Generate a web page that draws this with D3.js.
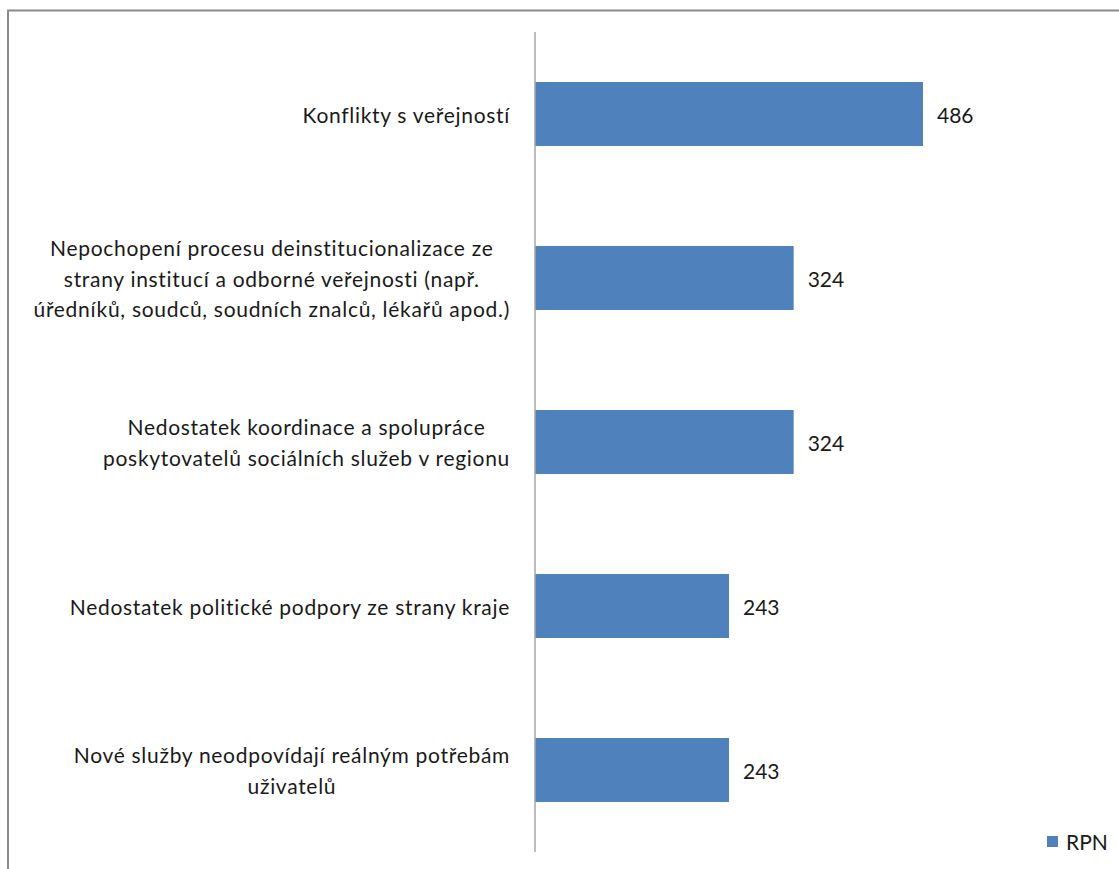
<!DOCTYPE html>
<html>
<head>
<meta charset="utf-8">
<script src="https://cdn.jsdelivr.net/npm/d3@7"></script>
<style>
  html, body { margin: 0; padding: 0; background: #fff; }
  svg text { font-family: Lato, "Open Sans", sans-serif; fill: #1a1a1a; }
</style>
</head>
<body>
<svg id="chart" width="1119" height="869"></svg>
<script>
// Risk categories (each entry is the list of lines of its label)
const categories = [
  ["Konflikty s veřejností"],
  ["Nepochopení procesu deinstitucionalizace ze",
   "strany institucí a odborné veřejnosti (např.",
   "úředníků, soudců, soudních znalců, lékařů apod.)"],
  ["Nedostatek koordinace a spolupráce",
   "poskytovatelů sociálních služeb v regionu"],
  ["Nedostatek politické podpory ze strany kraje"],
  ["Nové služby neodpovídají reálným potřebám",
   "uživatelů"]
];
// RPN score for each category
const rpnValues = [486, 324, 324, 243, 243];
const seriesName = "RPN";

const W = 1119, H = 869;
const svg = d3.select("#chart");
const barColor = "#4f81bd";
const fontSize = 21;
const spacing = 0.7;

// Chart-area frame (top and left edges)
svg.append("path")
  .attr("d", `M8,${H} V10.5 H${W}`)
  .attr("fill", "none")
  .attr("stroke", "#8a8a8a")
  .attr("stroke-width", 2);

const keys = categories.map((c, i) => i);

const x = d3.scaleLinear().domain([0, 600]).range([535, 1014]);
const y = d3.scaleBand().domain(keys).range([32, 852])
  .paddingInner(0.61).paddingOuter(0.305);

// Bars
svg.append("g").selectAll("rect")
  .data(keys)
  .join("rect")
  .attr("x", x(0))
  .attr("y", i => y(i))
  .attr("width", i => x(rpnValues[i]) - x(0))
  .attr("height", y.bandwidth())
  .attr("fill", barColor);

// Category axis line
svg.append("line")
  .attr("x1", x(0)).attr("x2", x(0))
  .attr("y1", 32).attr("y2", 852)
  .attr("stroke", "#a6a6a6")
  .attr("stroke-width", 1.5);

// Category labels: block right-aligned next to the axis, lines centred in the block
const labelRight = 510;
const lineGap = 30.5;
const labels = svg.append("g");
keys.forEach(i => {
  const lines = categories[i];
  const g = labels.append("g");
  const texts = g.selectAll("text")
    .data(lines)
    .join("text")
    .attr("font-size", fontSize)
    .attr("letter-spacing", spacing)
    .attr("text-anchor", "middle")
    .attr("dominant-baseline", "central")
    .text(d => d);
  let maxW = 0;
  texts.each(function () { maxW = Math.max(maxW, this.getComputedTextLength()); });
  const cx = labelRight - maxW / 2;
  const cy = y(i) + y.bandwidth() / 2;
  texts
    .attr("x", cx)
    .attr("y", (d, k) => cy + (k - (lines.length - 1) / 2) * lineGap);
});

// Value labels
svg.append("g").selectAll("text")
  .data(keys)
  .join("text")
  .attr("x", i => x(rpnValues[i]) + 14)
  .attr("y", i => y(i) + y.bandwidth() / 2)
  .attr("font-size", fontSize)
  .attr("dominant-baseline", "central")
  .text(i => rpnValues[i]);

// Legend
const legend = svg.append("g");
legend.append("rect")
  .attr("x", 1047).attr("y", 836)
  .attr("width", 11).attr("height", 11)
  .attr("fill", barColor);
legend.append("text")
  .attr("x", 1066).attr("y", 841.5)
  .attr("font-size", fontSize)
  .attr("dominant-baseline", "central")
  .text(seriesName);
</script>
</body>
</html>
